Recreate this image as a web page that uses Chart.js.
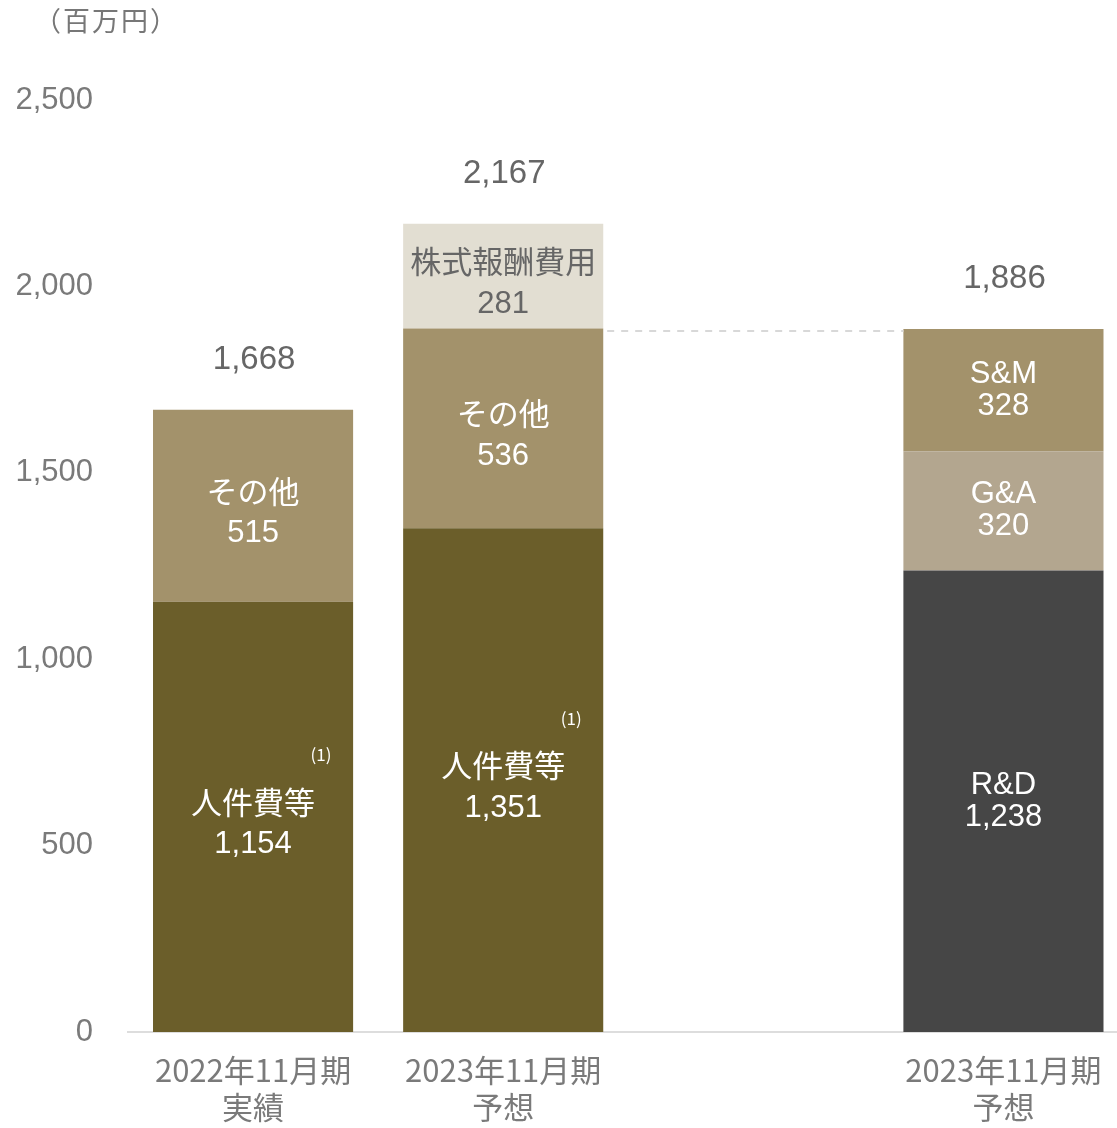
<!DOCTYPE html>
<html>
<head>
<meta charset="utf-8">
<script src="https://cdn.jsdelivr.net/npm/chart.js@4.4.1/dist/chart.umd.min.js"></script>
<style>
  body { margin: 0; background: #fff; }
  #wrap { position: relative; width: 1117px; height: 1128px; }
</style>
</head>
<body>
<div id="wrap"><canvas id="chart"></canvas></div>
<script>
// データ（百万円）
const periodLabels = [['2022年11月期', '実績'], ['2023年11月期', '予想'], [], ['2023年11月期', '予想']];
const barPositions = [0, 1, 3];

const jinkenhi = [1154, 1351];        // 人件費等
const sonota = [515, 536];            // その他
const kabushikiHoshu = [281];         // 株式報酬費用 (2023 予想のみ)
const rnd = [1238];
const gna = [320];
const snm = [328];

const totals = [1668, 2167, 1886];
const yTicks = [0, 500, 1000, 1500, 2000, 2500];

const FONT = '"Liberation Sans", "Noto Sans CJK JP", sans-serif';
const JP_FONT = '"Noto Sans CJK JP", "Liberation Sans", sans-serif';

const datasets = [
  { label: '人件費等', data: [{ x: 0, y: jinkenhi[0] }, { x: 1, y: jinkenhi[1] }], backgroundColor: '#6b5e2a', textColor: '#fff' },
  { label: 'その他', data: [{ x: 0, y: sonota[0] }, { x: 1, y: sonota[1] }], backgroundColor: '#a3926b', textColor: '#fff' },
  { label: '株式報酬費用', data: [{ x: 1, y: kabushikiHoshu[0] }], backgroundColor: '#e2ded2', textColor: '#666' },
  { label: 'R&D', data: [{ x: 3, y: rnd[0] }], backgroundColor: '#464646', textColor: '#fff', tight: true },
  { label: 'G&A', data: [{ x: 3, y: gna[0] }], backgroundColor: '#b3a68f', textColor: '#fff', tight: true },
  { label: 'S&M', data: [{ x: 3, y: snm[0] }], backgroundColor: '#a3926b', textColor: '#fff', tight: true }
];

const fmt = v => v.toLocaleString('en-US');

// 棒の中のラベル、合計、点線などを描く
const labelPlugin = {
  id: 'labels',
  afterDatasetsDraw(chart) {
    const ctx = chart.ctx;
    const yScale = chart.scales.y;
    const xScale = chart.scales.x;
    ctx.save();
    ctx.textAlign = 'center';
    ctx.textBaseline = 'middle';

    chart.data.datasets.forEach((ds, i) => {
      const meta = chart.getDatasetMeta(i);
      meta.data.forEach((bar, j) => {
        const v = ds.data[j].y;
        const mid = (bar.y + bar.base) / 2;
        ctx.fillStyle = ds.textColor;
        if (ds.tight) {
          ctx.font = '31px ' + FONT;
          ctx.fillText(ds.label, bar.x, mid - 16);
          ctx.fillText(fmt(v), bar.x, mid + 16);
        } else {
          ctx.font = '31px ' + JP_FONT;
          ctx.fillText(ds.label, bar.x, mid - 15);
          ctx.font = '31px ' + FONT;
          ctx.fillText(fmt(v), bar.x, mid + 28);
          if (i === 0) {
            ctx.font = '17px ' + JP_FONT;
            ctx.fillText('(1)', bar.x + 68, mid - 62);
          }
        }
      });
    });

    // 合計
    ctx.fillStyle = '#666';
    ctx.font = '33px ' + FONT;
    barPositions.forEach((p, k) => {
      ctx.fillText(fmt(totals[k]), xScale.getPixelForValue(p) + 1, yScale.getPixelForValue(totals[k]) - 50);
    });

    // 点線
    const y = yScale.getPixelForValue(totals[2]) + 2;
    ctx.strokeStyle = '#d8d8d8';
    ctx.lineWidth = 2;
    ctx.setLineDash([7, 7]);
    ctx.beginPath();
    ctx.moveTo(xScale.getPixelForValue(1) + 104, y);
    ctx.lineTo(xScale.getPixelForValue(3) - 100, y);
    ctx.stroke();
    ctx.setLineDash([]);

    // 単位
    ctx.fillStyle = '#777';
    ctx.font = '27px ' + JP_FONT;
    ctx.letterSpacing = '2px';
    ctx.textAlign = 'left';
    ctx.fillText('（百万円）', 34, 21);
    ctx.restore();
  }
};

new Chart(document.getElementById('chart'), {
  type: 'bar',
  data: { datasets },
  options: {
    responsive: true,
    maintainAspectRatio: false,
    animation: false,
    layout: { padding: { top: 100, right: 0, left: 0, bottom: 0 } },
    plugins: { legend: { display: false }, tooltip: { enabled: false } },
    datasets: { bar: { barPercentage: 0.8, categoryPercentage: 1 } },
    scales: {
      x: {
        type: 'linear',
        stacked: true,
        offset: false,
        bounds: 'data',
        min: -0.5,
        max: 3.454,
        afterBuildTicks: s => { s.ticks = barPositions.map(v => ({ value: v })); },
        afterFit: s => { s.height = 96; s.paddingLeft = 0; s.paddingRight = 0; },
        grid: { display: false, drawTicks: false },
        border: { display: true, color: '#dddddd', width: 2 },
        ticks: {
          padding: 20,
          maxRotation: 0,
          autoSkip: false,
          color: '#7a7a7a',
          font: { family: JP_FONT, size: 31, lineHeight: 1.18 },
          callback: v => periodLabels[v] || ''
        }
      },
      y: {
        stacked: true,
        min: 0,
        max: 2500,
        afterBuildTicks: s => { s.ticks = yTicks.map(v => ({ value: v })); },
        afterFit: s => { s.width = 128; },
        grid: { display: false, drawTicks: false },
        border: { display: false },
        ticks: {
          padding: 35,
          color: '#7a7a7a',
          font: { family: FONT, size: 31 },
          callback: v => fmt(v)
        }
      }
    }
  },
  plugins: [labelPlugin]
});
</script>
</body>
</html>
